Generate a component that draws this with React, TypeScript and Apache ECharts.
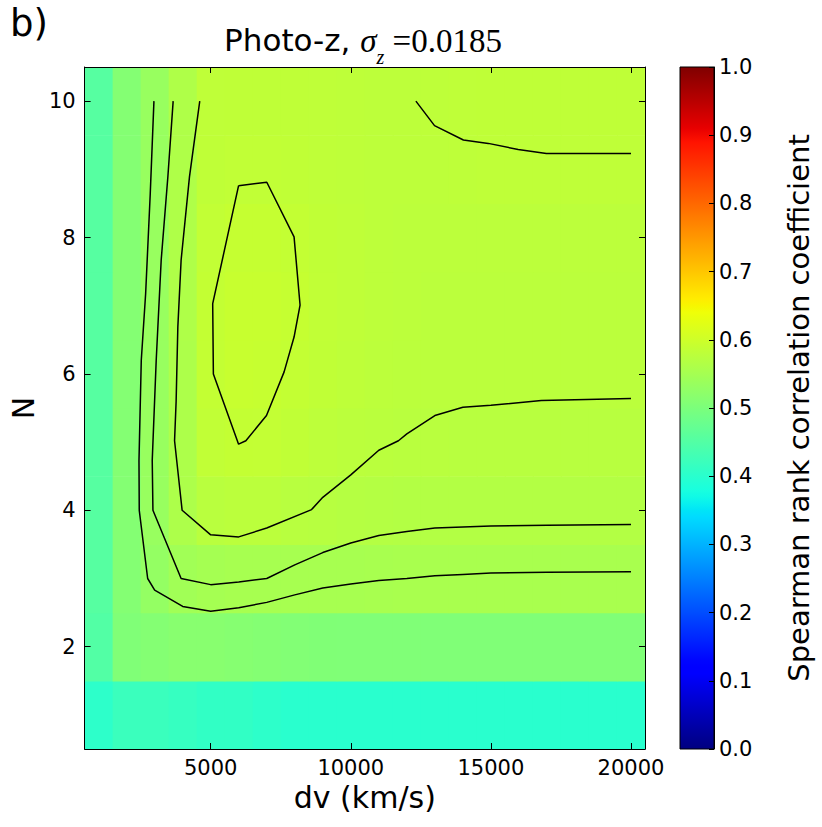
import React, { useEffect, useRef } from 'react';
import * as echarts from 'echarts';

// ---- data ----
const dvValues = [1000, 2000, 3000, 4000, 5000, 6000, 7000, 8000, 9000, 10000, 11000, 12000, 13000, 14000, 15000, 16000, 17000, 18000, 19000, 20000];
const nValues = [1, 2, 3, 4, 5, 6, 7, 8, 9, 10];

const rhoN1 = [0.405, 0.42, 0.42, 0.415, 0.41, 0.41, 0.405, 0.40, 0.40, 0.40, 0.40, 0.40, 0.40, 0.40, 0.40, 0.40, 0.40, 0.40, 0.40, 0.40];
const rhoN2 = [0.45, 0.505, 0.51, 0.515, 0.515, 0.512, 0.51, 0.508, 0.506, 0.505, 0.505, 0.505, 0.505, 0.505, 0.505, 0.505, 0.505, 0.505, 0.505, 0.505];
const rhoN3 = [0.455, 0.51, 0.53, 0.545, 0.55, 0.552, 0.552, 0.552, 0.552, 0.553, 0.554, 0.555, 0.555, 0.555, 0.555, 0.555, 0.555, 0.555, 0.555, 0.555];
const rhoN4 = [0.455, 0.51, 0.535, 0.56, 0.575, 0.578, 0.577, 0.574, 0.572, 0.57, 0.569, 0.568, 0.568, 0.568, 0.568, 0.568, 0.568, 0.568, 0.568, 0.568];
const rhoN5 = [0.455, 0.51, 0.535, 0.56, 0.585, 0.588, 0.587, 0.584, 0.58, 0.578, 0.576, 0.575, 0.575, 0.574, 0.574, 0.574, 0.574, 0.574, 0.574, 0.574];
const rhoN6 = [0.455, 0.51, 0.535, 0.56, 0.588, 0.592, 0.591, 0.588, 0.584, 0.581, 0.579, 0.578, 0.578, 0.578, 0.578, 0.578, 0.578, 0.578, 0.578, 0.578];
const rhoN7 = [0.455, 0.51, 0.535, 0.562, 0.588, 0.592, 0.592, 0.59, 0.585, 0.582, 0.58, 0.579, 0.578, 0.578, 0.578, 0.578, 0.578, 0.578, 0.578, 0.578];
const rhoN8 = [0.455, 0.51, 0.535, 0.562, 0.586, 0.59, 0.59, 0.588, 0.584, 0.582, 0.58, 0.579, 0.579, 0.579, 0.579, 0.579, 0.579, 0.579, 0.579, 0.579];
const rhoN9 = [0.455, 0.51, 0.535, 0.562, 0.583, 0.585, 0.585, 0.584, 0.582, 0.581, 0.58, 0.58, 0.58, 0.581, 0.582, 0.582, 0.582, 0.582, 0.582, 0.582];
const rhoN10 = [0.455, 0.51, 0.535, 0.562, 0.582, 0.583, 0.583, 0.583, 0.582, 0.581, 0.58, 0.58, 0.581, 0.582, 0.583, 0.583, 0.583, 0.583, 0.583, 0.583];
const rhoRows = [rhoN1, rhoN2, rhoN3, rhoN4, rhoN5, rhoN6, rhoN7, rhoN8, rhoN9, rhoN10];

const xTicks = [5000, 10000, 15000, 20000];
const yTicks = [2, 4, 6, 8, 10];

// contour lines [dv, N]
const contourA = [[2974, 10], [2842, 8.64], [2678, 7.18], [2522, 6.2], [2440, 4.73], [2450, 4.0], [2750, 3.0], [3000, 2.83], [4000, 2.59], [5000, 2.52], [6000, 2.57], [7000, 2.65], [8000, 2.76], [9000, 2.86], [10000, 2.92], [11000, 2.97], [12000, 3.0], [13000, 3.04], [14000, 3.06], [15000, 3.08], [17000, 3.09], [20000, 3.1]];
const contourB = [[3660, 10], [3471, 8.89], [3233, 7.67], [3055, 6.2], [2913, 4.73], [2938, 4.0], [3944, 3.0], [5000, 2.91], [6000, 2.95], [7000, 3.0], [8000, 3.2], [9000, 3.38], [10000, 3.52], [11000, 3.63], [12000, 3.69], [13000, 3.74], [15000, 3.77], [17000, 3.78], [20000, 3.79]];
const contourC = [[4609, 10], [4242, 8.89], [3944, 7.67], [3827, 6.69], [3766, 5.6], [3710, 5.02], [3980, 4.0], [5000, 3.64], [6000, 3.61], [7000, 3.74], [8600, 4.01], [9000, 4.19], [10000, 4.52], [11000, 4.88], [11700, 5.02], [12000, 5.12], [13000, 5.39], [14000, 5.51], [15000, 5.54], [16800, 5.61], [20000, 5.64]];
const contourD = [[5995, 8.76], [7002, 8.81], [7975, 8.01], [8189, 7.01], [7975, 6.54], [7620, 6.03], [6991, 5.39], [6255, 5.02], [5995, 4.97], [5095, 6.0], [5071, 7.03], [5995, 8.76]];
const contourE = [[12323, 10], [12988, 9.64], [14018, 9.43], [14907, 9.38], [15974, 9.29], [16980, 9.23], [20000, 9.23]];
const contours = [contourA, contourB, contourC, contourD, contourE];

// ---- jet colormap ----
const jetR = [[0, 0], [0.35, 0], [0.66, 1], [0.89, 1], [1, 0.5]];
const jetG = [[0, 0], [0.125, 0], [0.375, 1], [0.64, 1], [0.91, 0], [1, 0]];
const jetB = [[0, 0.5], [0.11, 1], [0.34, 1], [0.65, 0], [1, 0]];
function chan(pts: number[][], v: number) {
  for (let i = 1; i < pts.length; i++) {
    if (v <= pts[i][0]) {
      const [x0, y0] = pts[i - 1];
      const [x1, y1] = pts[i];
      return y0 + ((v - x0) / (x1 - x0)) * (y1 - y0);
    }
  }
  return pts[pts.length - 1][1];
}
function jet(v: number) {
  const r = Math.round(chan(jetR, v) * 255);
  const g = Math.round(chan(jetG, v) * 255);
  const b = Math.round(chan(jetB, v) * 255);
  return `rgb(${r},${g},${b})`;
}
const jetColors = Array.from({ length: 101 }, (_, i) => jet(i / 100));

const FONT = 'DejaVu Sans';
const MATH = 'Liberation Serif';

export default function App() {
  const ref = useRef<HTMLDivElement>(null);
  useEffect(() => {
    const chart = echarts.init(ref.current!, null, { renderer: 'svg' });
    const cells: number[][] = [];
    rhoRows.forEach((row, i) => row.forEach((v, j) => cells.push([dvValues[j], nValues[i], v])));
    const halfW = 500;
    const halfH = 0.5;
    const axisLineStyle = { color: '#000', width: 1 };
    const gradient = new echarts.graphic.LinearGradient(0, 1, 0, 0,
      jetColors.map((c, i) => ({ offset: i / 100, color: c })));

    const option: any = {
      animation: false,
      backgroundColor: '#fff',
      textStyle: { fontFamily: FONT },
      grid: [
        { left: 81, top: 67, width: 564, height: 682, show: false },
        { left: 680, top: 67, width: 34, height: 682, show: true, backgroundColor: gradient, borderColor: '#000', borderWidth: 1 },
      ],
      xAxis: [
        {
          gridIndex: 0, type: 'value', min: 500, max: 20500, position: 'bottom', z: 10,
          axisLine: { show: true, onZero: false, lineStyle: axisLineStyle },
          axisTick: { show: true, inside: true, length: 6, customValues: xTicks, lineStyle: axisLineStyle },
          axisLabel: { show: true, customValues: xTicks, fontSize: 21, color: '#000', margin: 8, fontFamily: FONT, formatter: (v: number) => String(v) },
          splitLine: { show: false },
          name: 'dv (km/s)', nameLocation: 'middle', nameGap: 31,
          nameTextStyle: { fontSize: 30, color: '#000', fontFamily: FONT },
        },
        {
          gridIndex: 0, type: 'value', min: 500, max: 20500, position: 'top', z: 10,
          axisLine: { show: true, onZero: false, lineStyle: axisLineStyle },
          axisTick: { show: true, inside: true, length: 6, customValues: xTicks, lineStyle: axisLineStyle },
          axisLabel: { show: false },
          splitLine: { show: false },
        },
        { gridIndex: 1, type: 'value', min: 0, max: 1, show: false },
      ],
      yAxis: [
        {
          gridIndex: 0, type: 'value', min: 0.5, max: 10.5, position: 'left', z: 10,
          axisLine: { show: true, onZero: false, lineStyle: axisLineStyle },
          axisTick: { show: true, inside: true, length: 6, customValues: yTicks, lineStyle: axisLineStyle },
          axisLabel: { show: true, customValues: yTicks, fontSize: 21, color: '#000', margin: 9, fontFamily: FONT, formatter: (v: number) => String(v) },
          splitLine: { show: false },
          name: 'N', nameLocation: 'middle', nameGap: 42, nameRotate: 90,
          nameTextStyle: { fontSize: 30, color: '#000', fontFamily: FONT },
        },
        {
          gridIndex: 0, type: 'value', min: 0.5, max: 10.5, position: 'right', z: 10,
          axisLine: { show: true, onZero: false, lineStyle: axisLineStyle },
          axisTick: { show: true, inside: true, length: 6, customValues: yTicks, lineStyle: axisLineStyle },
          axisLabel: { show: false },
          splitLine: { show: false },
        },
        {
          gridIndex: 1, type: 'value', min: 0, max: 1, interval: 0.1, position: 'right', z: 10,
          axisLine: { show: true, onZero: false, lineStyle: axisLineStyle },
          axisTick: { show: true, inside: true, length: 5, lineStyle: axisLineStyle },
          axisLabel: { show: true, fontSize: 21, color: '#000', margin: 5, fontFamily: FONT, formatter: (v: number) => v.toFixed(1) },
          splitLine: { show: false },
          name: 'Spearman rank correlation coefficient', nameLocation: 'middle', nameGap: 70, nameRotate: 90,
          nameTextStyle: { fontSize: 29, color: '#000', fontFamily: FONT },
        },
      ],
      visualMap: {
        type: 'continuous', show: false, min: 0, max: 1, dimension: 2, seriesIndex: 0,
        inRange: { color: jetColors },
      },
      series: [
        {
          type: 'custom', xAxisIndex: 0, yAxisIndex: 0, silent: true,
          dimensions: ['dv', 'N', 'rho'], encode: { x: 0, y: 1 },
          data: cells,
          renderItem: (params: any, api: any) => {
            const x = api.value(0);
            const y = api.value(1);
            const p0 = api.coord([x - halfW, y + halfH]);
            const p1 = api.coord([x + halfW, y - halfH]);
            return {
              type: 'rect',
              shape: { x: p0[0], y: p0[1], width: p1[0] - p0[0] + 0.6, height: p1[1] - p0[1] + 0.6 },
              style: { fill: api.visual('color') },
            };
          },
        },
        ...contours.map((c) => ({
          type: 'line', xAxisIndex: 0, yAxisIndex: 0, data: c, showSymbol: false, symbol: 'none',
          silent: true, z: 5, lineStyle: { color: '#000', width: 1.5 },
        })),
      ],
      graphic: [
        { type: 'text', left: 10, top: 5, style: { text: 'b)', fontSize: 37, fill: '#000', fontFamily: FONT } },
        {
          type: 'text', x: 363, y: 24,
          style: {
            text: '{a|Photo-z, }{s|σ}{z|z}{e| =0.0185}',
            align: 'center', verticalAlign: 'top', fill: '#000',
            rich: {
              a: { fontSize: 31, fontFamily: FONT, lineHeight: 36, verticalAlign: 'top' },
              s: { fontSize: 33, fontFamily: MATH, fontStyle: 'italic', lineHeight: 36, verticalAlign: 'top' },
              z: { fontSize: 20, fontFamily: MATH, fontStyle: 'italic', lineHeight: 18, padding: [23, 0, 0, 0], verticalAlign: 'top' },
              e: { fontSize: 33, fontFamily: MATH, lineHeight: 36, verticalAlign: 'top' },
            },
          },
        },
      ],
    };
    chart.setOption(option);
    return () => chart.dispose();
  }, []);
  return <div ref={ref} style={{ position: 'fixed', left: 0, top: 0, width: 822, height: 827 }} />;
}
